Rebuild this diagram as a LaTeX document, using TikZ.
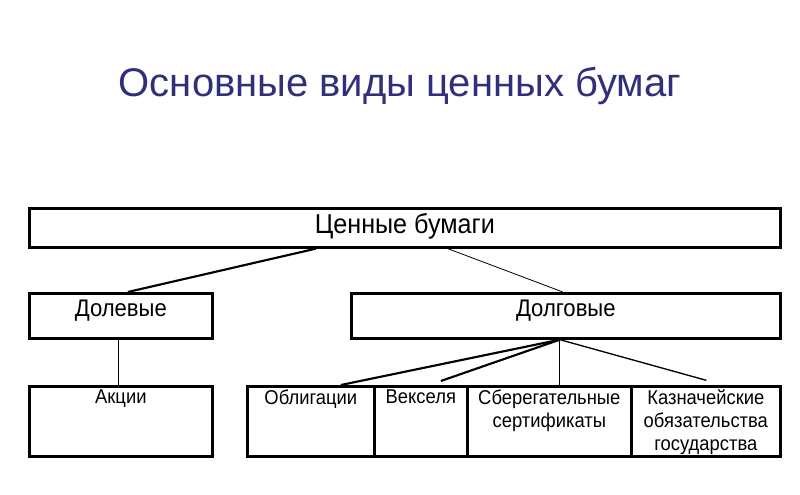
\documentclass[tikz,border=0pt]{standalone}
\usepackage{fontspec}
\setmainfont{Liberation Sans}
\newfontfamily\boxfont[FakeStretch=0.92]{Liberation Sans}
\usetikzlibrary{positioning}
\definecolor{titleblue}{RGB}{48,48,122}

\begin{document}
\begin{tikzpicture}[x=0.75pt,y=-0.75pt,
    cell/.style={draw,line width=2pt,anchor=north west,inner sep=0pt},
    headtext/.style={font=\boxfont\fontsize{20.5}{24}\selectfont,anchor=north,inner sep=0pt},
    midtext/.style={font=\boxfont\fontsize{18}{21}\selectfont,anchor=north,inner sep=0pt},
    celltext/.style={font=\boxfont\fontsize{15}{17}\selectfont,align=center,anchor=north,inner sep=0pt},
    boldline/.style={line width=1.6pt},
    thinline/.style={line width=0.6pt}]
    % рамка картинки
    \useasboundingbox (0,0) rectangle (800,495);
    \node[font=\fontsize{30}{36}\selectfont,text=titleblue,anchor=base] (title) at (400,97) {Основные виды ценных бумаг};

    % верхний уровень
    \node[cell,minimum width=751*0.75pt,minimum height=39*0.75pt] (cb) at (28,207) {};
    \node[headtext] (cbtext) at ([yshift=-5pt]cb.north) {Ценные бумаги};

    % второй уровень
    \node[cell,minimum width=183*0.75pt,minimum height=45*0.75pt] (dol) at (28,292) {};
    \node[cell,minimum width=429*0.75pt,minimum height=45*0.75pt] (dolg) at (350,292) {};
    \node[midtext] (doltext) at ([yshift=-5.5pt]dol.north) {Долевые};
    \node[midtext] (dolgtext) at ([yshift=-5.5pt]dolg.north) {Долговые};

    % нижний уровень
    \node[cell,minimum width=183*0.75pt,minimum height=70*0.75pt] (akc) at (28,385) {};
    \node[cell,minimum width=127*0.75pt,minimum height=70*0.75pt] (obl) at (246,385) {};
    \node[cell,minimum width=93*0.75pt,minimum height=70*0.75pt] (veks) at (373,385) {};
    \node[cell,minimum width=164*0.75pt,minimum height=70*0.75pt] (sber) at (466,385) {};
    \node[cell,minimum width=149*0.75pt,minimum height=70*0.75pt] (kazn) at (630,385) {};
    \node[celltext] (akctext) at ([yshift=-3.5pt]akc.north) {Акции};
    \node[celltext] (obltext) at ([yshift=-3.5pt]obl.north) {Облигации};
    \node[celltext] (vekstext) at ([yshift=-3.5pt]veks.north) {Векселя};
    \node[celltext] (sbertext) at ([yshift=-3.5pt]sber.north) {Сберегательные\\сертификаты};
    \node[celltext] (kazntext) at ([yshift=-3.5pt]kazn.north) {Казначейские\\обязательства\\государства};

    % связи
    \draw[boldline] ([xshift=-89*0.75pt]cb.south) -- ([xshift=7*0.75pt]dol.north);
    \draw[thinline] ([xshift=43*0.75pt]cb.south) -- ([xshift=-3*0.75pt]dolg.north);
    \draw[line width=1pt] ([xshift=-2.5*0.75pt]dol.south) -- ([xshift=-2.5*0.75pt]akc.north);
    \draw[boldline] ([xshift=-6*0.75pt]dolg.south) -- ([xshift=30*0.75pt]obl.north);
    \draw[boldline] ([xshift=-6*0.75pt]dolg.south) -- ([xshift=20*0.75pt,yshift=3pt]veks.north);
    \draw[thinline] ([xshift=-6*0.75pt]dolg.south) -- ([xshift=10.5*0.75pt]sber.north);
    \draw[line width=1pt] ([xshift=-6*0.75pt]dolg.south) -- ([xshift=0.5*0.75pt,yshift=3.5pt]kazn.north);
\end{tikzpicture}
\end{document}
